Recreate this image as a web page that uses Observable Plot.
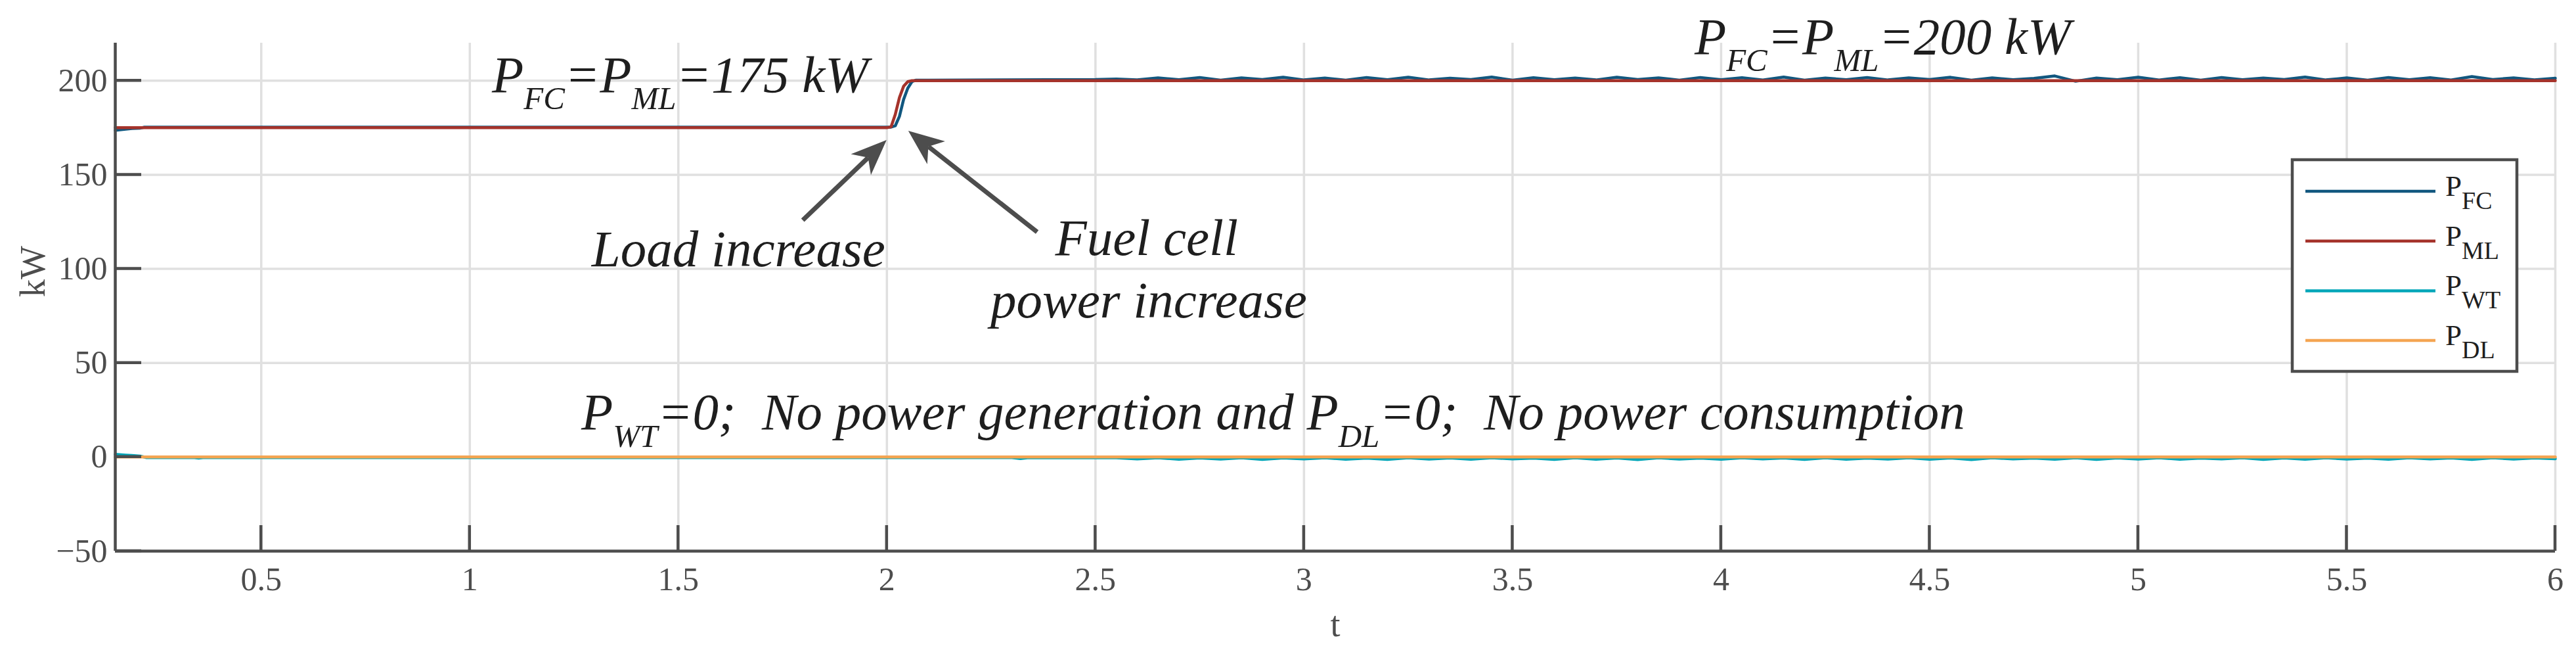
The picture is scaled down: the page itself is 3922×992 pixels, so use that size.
<!DOCTYPE html>
<html>
<head>
<meta charset="utf-8">
<script src="https://cdn.jsdelivr.net/npm/d3@7"></script>
<script src="https://cdn.jsdelivr.net/npm/@observablehq/plot@0.6"></script>
<style>html,body{margin:0;padding:0;background:#fff;}</style>
</head>
<body>
<div id="chart"></div>
<script>
// ---------- data ----------
const xTicks = [0.5, 1, 1.5, 2, 2.5, 3, 3.5, 4, 4.5, 5, 5.5, 6];
const yTicks = [-50, 0, 50, 100, 150, 200];
const seriesNames = ["FC", "ML", "WT", "DL"];
const seriesColors = ["#11577f", "#a5332b", "#00a6b8", "#f4a552"];

const rippleTime = [
  2.55, 2.6, 2.65, 2.7, 2.75, 2.8, 2.85, 2.9, 2.95, 3.0,
  3.05, 3.1, 3.15, 3.2, 3.25, 3.3, 3.35, 3.4, 3.45, 3.5,
  3.55, 3.6, 3.65, 3.7, 3.75, 3.8, 3.85, 3.9, 3.95, 4.0,
  4.05, 4.1, 4.15, 4.2, 4.25, 4.3, 4.35, 4.4, 4.45, 4.5,
  4.55, 4.6, 4.65, 4.7, 4.75, 4.8, 4.85, 4.9, 4.95, 5.0,
  5.05, 5.1, 5.15, 5.2, 5.25, 5.3, 5.35, 5.4, 5.45, 5.5,
  5.55, 5.6, 5.65, 5.7, 5.75, 5.8, 5.85, 5.9, 5.95, 6.0
];

// P_FC (fuel cell)
const fcHeadTime  = [0.15, 0.175, 0.19, 0.21, 0.22, 2.01, 2.02, 2.03, 2.04, 2.05, 2.06, 2.07, 2.1, 2.5];
const fcHeadPower = [173.6, 174.2, 174.6, 174.8, 175.3, 175.3, 176, 181, 190, 196, 199.5, 200.3, 200.3, 200.6];
const fcRipplePower = [
  200.9, 200.4, 201.5, 200.5, 201.7, 200.3, 201.5, 200.6, 201.8, 200.4,
  201.4, 200.3, 201.7, 200.5, 201.8, 200.4, 201.3, 200.6, 201.9, 200.3,
  201.6, 200.5, 201.4, 200.4, 201.8, 200.6, 201.5, 200.3, 201.7, 200.5,
  201.6, 200.4, 201.9, 200.3, 201.4, 200.5, 201.7, 200.4, 201.5, 200.6,
  201.8, 200.3, 201.5, 200.5, 201.2, 202.5, 199.7, 201.4, 200.5, 201.8,
  200.4, 201.6, 200.3, 201.7, 200.5, 201.4, 200.6, 201.9, 200.4, 201.5,
  200.3, 201.7, 200.5, 201.6, 200.4, 202.2, 200.6, 201.5, 200.4, 201.3
];

// P_ML (main load)
const mlTime  = [0.15, 2.0, 2.01, 2.02, 2.03, 2.04, 2.05, 2.06, 6.0];
const mlPower = [175, 175, 175.5, 182, 191, 197, 199.5, 200, 200];

// P_WT (wind turbine)
const wtHeadTime  = [0.15, 0.175, 0.19, 0.21, 0.225, 0.34, 0.35, 0.36, 2.3, 2.32, 2.34, 2.5];
const wtHeadPower = [1.4, 1.0, 0.8, 0.5, -0.3, -0.3, -0.6, -0.3, -0.3, -0.8, -0.3, -0.4];
const wtRipplePower = [
  -0.4, -1.0, -0.4, -1.2, -0.5, -1.1, -0.4, -1.3, -0.5, -1.0,
  -0.4, -1.2, -0.6, -1.3, -0.4, -1.1, -0.5, -1.2, -0.4, -1.0,
  -0.6, -1.3, -0.4, -1.2, -0.5, -1.4, -0.4, -1.1, -0.6, -1.2,
  -0.4, -1.0, -0.5, -1.3, -0.4, -1.2, -0.6, -1.1, -0.4, -1.2,
  -0.5, -1.4, -0.4, -1.0, -0.6, -1.2, -0.4, -1.3, -0.5, -1.1,
  -0.4, -1.2, -0.6, -1.0, -0.4, -1.3, -0.5, -1.2, -0.4, -1.1,
  -0.6, -1.2, -0.4, -1.0, -0.5, -1.3, -0.4, -1.1, -0.5, -0.9
];

// P_DL (dump load)
const dlTime  = [0.15, 6.0];
const dlPower = [0, 0];

// annotation texts: [text, isSubscript]
const noteFC175 = [["P", 0], ["FC", 1], ["=P", 0], ["ML", 1], ["=175 kW", 0]];
const noteFC200 = [["P", 0], ["FC", 1], ["=P", 0], ["ML", 1], ["=200 kW", 0]];
const noteZero  = [["P", 0], ["WT", 1], ["=0;  No power generation and P", 0], ["DL", 1], ["=0;  No power consumption", 0]];
const noteLoad  = "Load increase";
const noteFuel  = ["Fuel cell", "power increase"];

// ---------- tables ----------
const table = (name, t, p) => t.map((v, i) => ({series: name, t: v, p: p[i]}));
const fcData = table("FC", [...fcHeadTime, ...rippleTime], [...fcHeadPower, ...fcRipplePower]);
const mlData = table("ML", mlTime, mlPower);
const wtData = table("WT", [...wtHeadTime, ...rippleTime], [...wtHeadPower, ...wtRipplePower]);
const dlData = table("DL", dlTime, dlPower);

// ---------- styles ----------
const axisColor = "#4d4d4d";
const gridColor = "#e0e0e0";
const inkColor = "#1e1e1e";
const serif = "'Liberation Serif', 'Times New Roman', Times, serif";
const fmt = d => (d < 0 ? "\u2212" + (-d) : String(d));

// ---------- helper marks ----------
function richText(parts, xv, yv, o) {
  return (index, scales) => {
    const t = d3.create("svg:text")
      .attr("x", scales.x(xv)).attr("y", scales.y(yv))
      .attr("text-anchor", "start")
      .attr("font-size", o.size).attr("font-style", o.italic ? "italic" : null)
      .attr("fill", inkColor).attr("xml:space", "preserve").style("white-space", "pre");
    let down = false;
    for (const [s, sub] of parts) {
      const ts = t.append("tspan").text(s);
      if (sub) {
        ts.attr("font-size", o.subSize);
        if (!down) { ts.attr("dy", o.subDy); down = true; }
      } else if (down) { ts.attr("dy", -o.subDy); down = false; }
    }
    return t.node();
  };
}

function arrowMark(x1, y1, x2, y2) {
  return (index, scales) => {
    const ax = scales.x(x1), ay = scales.y(y1), bx = scales.x(x2), by = scales.y(y2);
    const dx = bx - ax, dy = by - ay, len = Math.hypot(dx, dy);
    const ux = dx / len, uy = dy / len, px = -uy, py = ux;
    const L = 54, W = 22, N = 0.72;
    const g = d3.create("svg:g").attr("fill", axisColor).attr("stroke", axisColor);
    g.append("line")
      .attr("x1", ax).attr("y1", ay)
      .attr("x2", bx - ux * L * N).attr("y2", by - uy * L * N)
      .attr("stroke-width", 7);
    const pts = [
      [bx, by],
      [bx - ux * L + px * W, by - uy * L + py * W],
      [bx - ux * L * N, by - uy * L * N],
      [bx - ux * L - px * W, by - uy * L - py * W]
    ];
    g.append("path").attr("stroke", "none").attr("d", "M" + pts.map(p => p.join(",")).join("L") + "Z");
    return g.node();
  };
}

function innerTicks(index, scales) {
  const g = d3.create("svg:g").attr("stroke", axisColor).attr("stroke-width", 4.5);
  const x0 = scales.x(0.15), y0 = scales.y(-50);
  for (const v of xTicks) g.append("line").attr("x1", scales.x(v)).attr("x2", scales.x(v)).attr("y1", y0).attr("y2", y0 - 39);
  for (const v of yTicks) g.append("line").attr("y1", scales.y(v)).attr("y2", scales.y(v)).attr("x1", x0).attr("x2", x0 + 40);
  return g.node();
}

function legendMark(index, scales, values, dim) {
  const right = dim.width - dim.marginRight - 58;
  const left = right - 342, top = dim.marginTop + 178;
  const g = d3.create("svg:g");
  g.append("rect").attr("x", left).attr("y", top).attr("width", 342).attr("height", 322)
    .attr("fill", "white").attr("stroke", axisColor).attr("stroke-width", 4.5);
  seriesNames.forEach((name, i) => {
    const ly = top + 48 + i * 75.7;
    g.append("line").attr("x1", left + 20).attr("x2", left + 218).attr("y1", ly).attr("y2", ly)
      .attr("stroke", seriesColors[i]).attr("stroke-width", 4.5);
    const t = g.append("text").attr("x", left + 233).attr("y", ly + 7)
      .attr("text-anchor", "start").attr("font-size", 45).attr("fill", inkColor);
    t.append("tspan").text("P");
    t.append("tspan").attr("dy", 20).attr("font-size", 38).text(name);
  });
  return g.node();
}

// ---------- chart ----------
const chart = Plot.plot({
  width: 3922,
  height: 992,
  marginLeft: 175,
  marginRight: 32,
  marginTop: 65,
  marginBottom: 154,
  style: {fontFamily: serif, background: "white"},
  x: {domain: [0.15, 6], label: null},
  y: {domain: [-50, 220], label: null},
  color: {domain: seriesNames, range: seriesColors},
  marks: [
    Plot.gridX(xTicks, {stroke: gridColor, strokeOpacity: 1, strokeWidth: 3.5}),
    Plot.gridY(yTicks.filter(v => v > -50), {stroke: gridColor, strokeOpacity: 1, strokeWidth: 3.5}),
    Plot.line(fcData, {x: "t", y: "p", stroke: "series", strokeWidth: 4.5}),
    Plot.line(mlData, {x: "t", y: "p", stroke: "series", strokeWidth: 4.5}),
    Plot.line(wtData, {x: "t", y: "p", stroke: "series", strokeWidth: 4.5}),
    Plot.line(dlData, {x: "t", y: "p", stroke: "series", strokeWidth: 4.5}),
    Plot.ruleX([0.15], {stroke: axisColor, strokeWidth: 4.5}),
    Plot.ruleY([-50], {stroke: axisColor, strokeWidth: 4.5}),
    innerTicks,
    Plot.axisX(xTicks, {tickSize: 0, tickPadding: 24, fontSize: 50, color: axisColor, label: null, tickFormat: fmt}),
    Plot.axisY(yTicks, {tickSize: 0, tickPadding: 12, fontSize: 50, color: axisColor, label: null, tickFormat: fmt}),
    Plot.text(["kW"], {text: d => d, frameAnchor: "left", dx: -125, rotate: -90, fontSize: 54, fill: axisColor}),
    Plot.text(["t"], {text: d => d, frameAnchor: "bottom", dy: 129, lineAnchor: "bottom", fontSize: 54, fill: axisColor}),
    richText(noteFC175, 1.054, 193.8, {size: 79, subSize: 49, subDy: 26, italic: true}),
    richText(noteFC200, 3.937, 214.1, {size: 79, subSize: 49, subDy: 26, italic: true}),
    richText(noteZero, 1.268, 14.6, {size: 79, subSize: 49, subDy: 27, italic: true}),
    richText([[noteLoad, 0]], 1.293, 101.2, {size: 79, italic: true}),
    richText([[noteFuel[0], 0]], 2.404, 107.2, {size: 79, italic: true}),
    richText([[noteFuel[1], 0]], 2.249, 74.0, {size: 79, italic: true}),
    arrowMark(1.799, 125.7, 2.000, 168.3),
    arrowMark(2.361, 119.4, 2.052, 173.2),
    legendMark
  ]
});
document.getElementById("chart").appendChild(chart);
</script>
</body>
</html>
